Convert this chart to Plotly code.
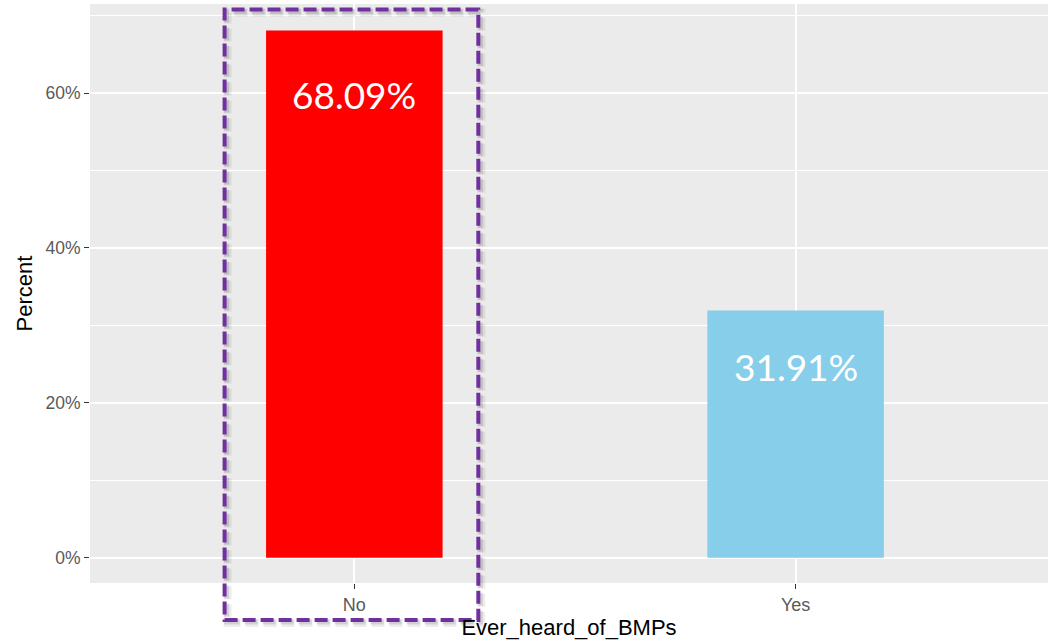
import plotly.graph_objects as go

# Survey answers and their share of respondents (%)
categories = ["No", "Yes"]
percents = [68.09, 31.91]
bar_colors = ["#FF0000", "#87CEEB"]
label_texts = ["68.09%", "31.91%"]

y_ticks = [0, 20, 40, 60]
y_tick_labels = ["0%", "20%", "40%", "60%"]

W, H = 1048, 644
margin = dict(l=90, r=0, t=4, b=61)
plot_h = H - margin["t"] - margin["b"]

fig = go.Figure()
fig.add_trace(go.Bar(
    x=categories,
    y=percents,
    marker=dict(color=bar_colors, line=dict(width=0)),
    width=0.4,
    hoverinfo="skip",
))

# value labels inside the top of each bar
label_shift = [-64, -56]
for cat, val, txt, dy in zip(categories, percents, label_texts, label_shift):
    fig.add_annotation(
        x=cat, y=val, text=txt, showarrow=False,
        xanchor="center", yanchor="middle", yshift=dy,
        font=dict(family="Lato", size=37, color="white"),
    )

# dashed highlight box around the first category (soft shadow underneath)
box_x0, box_x1 = -0.294, 0.281
box_y0 = -(620 - (H - margin["b"])) / plot_h
box_y1 = ((H - margin["b"]) - 9.5) / plot_h
px_x = 1 / 441.4
px_y = 1 / plot_h
for off, alpha, lw in [(3, 0.07, 8), (2, 0.12, 5)]:
    fig.add_shape(
        type="rect", xref="x", yref="paper",
        x0=box_x0 + off * px_x, x1=box_x1 + off * px_x,
        y0=box_y0 - off * px_y, y1=box_y1 - off * px_y,
        line=dict(color=f"rgba(0,0,0,{alpha})", width=lw, dash="13px,5px"),
        fillcolor="rgba(0,0,0,0)", layer="above",
    )
fig.add_shape(
    type="rect", xref="x", yref="paper",
    x0=box_x0, x1=box_x1, y0=box_y0, y1=box_y1,
    line=dict(color="#7030A0", width=4, dash="13px,5px"),
    fillcolor="rgba(0,0,0,0)", layer="above",
)

fig.update_layout(
    width=W, height=H,
    margin=margin,
    paper_bgcolor="white",
    plot_bgcolor="#EBEBEB",
    showlegend=False,
    font=dict(family="Liberation Sans", color="#4D4D4D"),
    xaxis=dict(
        type="category",
        range=[-0.599, 1.572],
        showgrid=True, gridcolor="white", gridwidth=1.5,
        ticks="outside", ticklen=5, tickcolor="#333333", tickwidth=1,
        tickfont=dict(family="Liberation Sans", size=18, color="#595959"),
        title=dict(text="Ever_heard_of_BMPs", standoff=6,
                   font=dict(family="Liberation Sans", size=22, color="black")),
        zeroline=False, showline=False,
    ),
    yaxis=dict(
        range=[-3.27, 71.5],
        tickvals=y_ticks, ticktext=y_tick_labels,
        showgrid=True, gridcolor="white", gridwidth=1.5,
        minor=dict(tickvals=[10, 30, 50, 70], showgrid=True,
                   gridcolor="white", gridwidth=0.9, ticks=""),
        ticks="outside", ticklen=5, tickcolor="#333333", tickwidth=1,
        tickfont=dict(family="Liberation Sans", size=17.5, color="#595959"),
        title=dict(text="Percent", standoff=6,
                   font=dict(family="Liberation Sans", size=22, color="black")),
        zeroline=False, showline=False,
    ),
)

fig.write_html("out.html")
